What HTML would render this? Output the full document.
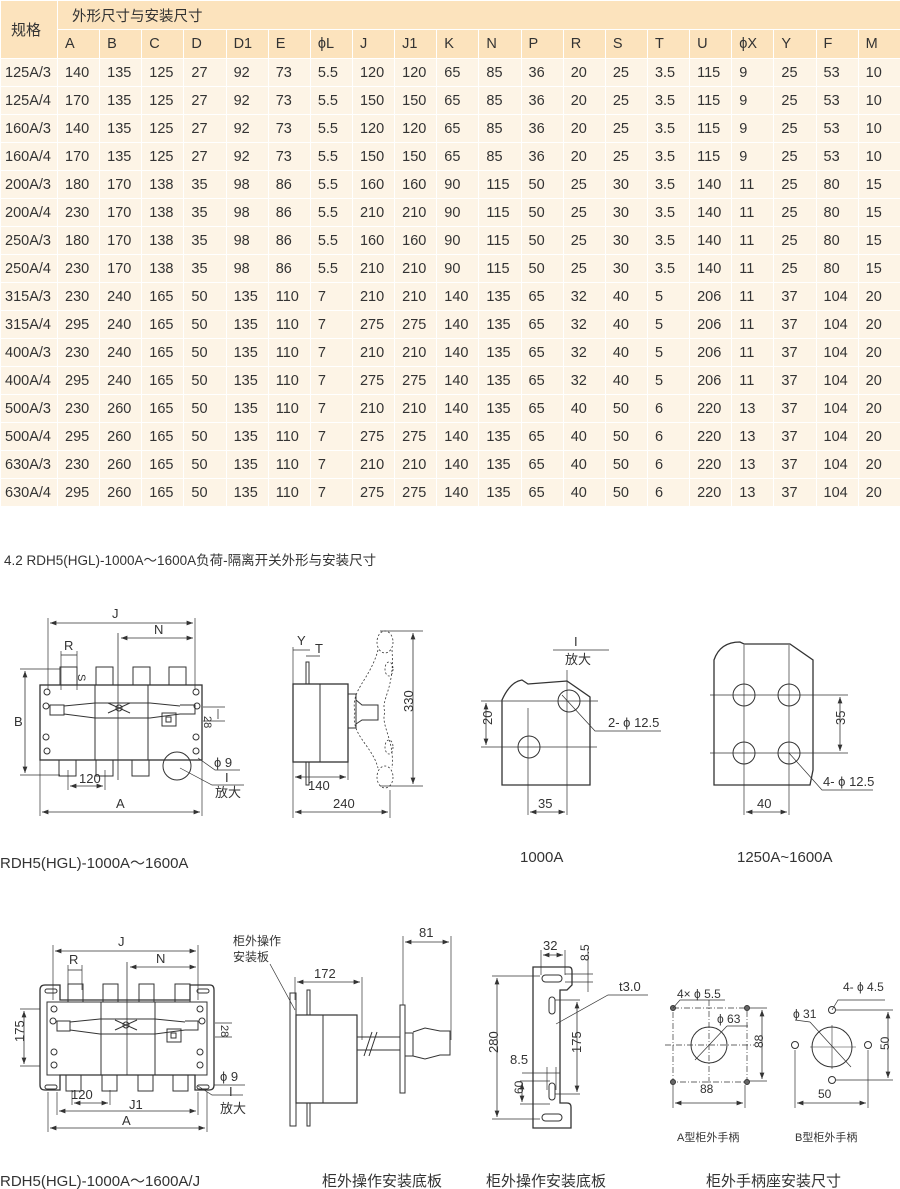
<!DOCTYPE html>
<html><head><meta charset="utf-8"><style>
body{margin:0;width:900px;height:1189px;background:#fff;position:relative;overflow:hidden;font-family:"Liberation Sans","Noto Sans CJK SC",sans-serif;color:#333}
table{position:absolute;left:0;top:0;border-collapse:collapse;table-layout:fixed;width:900px;font-size:14.5px}
td{border:1.5px solid #fff;padding:0 0 0 7px;white-space:nowrap;overflow:hidden;height:27px;background:#fdf4e6}
tr.h td{background:#fce3bd;height:28px}
svg{position:absolute;left:0;top:0}
svg text{font-family:"Liberation Sans","Noto Sans CJK SC",sans-serif;fill:#333}
</style></head><body>
<table>
<colgroup><col style="width:57px"><col span="20" style="width:42.15px"></colgroup>
<tr class="h"><td rowspan="2" style="padding-left:10px;font-size:15px">规格</td><td colspan="20" style="padding-left:14px">外形尺寸与安装尺寸</td></tr>
<tr class="h"><td>A</td><td>B</td><td>C</td><td>D</td><td>D1</td><td>E</td><td>&#981;L</td><td>J</td><td>J1</td><td>K</td><td>N</td><td>P</td><td>R</td><td>S</td><td>T</td><td>U</td><td>&#981;X</td><td>Y</td><td>F</td><td>M</td></tr>
<tr><td style="padding-left:4px">125A/3</td><td>140</td><td>135</td><td>125</td><td>27</td><td>92</td><td>73</td><td>5.5</td><td>120</td><td>120</td><td>65</td><td>85</td><td>36</td><td>20</td><td>25</td><td>3.5</td><td>115</td><td>9</td><td>25</td><td>53</td><td>10</td></tr>
<tr><td style="padding-left:4px">125A/4</td><td>170</td><td>135</td><td>125</td><td>27</td><td>92</td><td>73</td><td>5.5</td><td>150</td><td>150</td><td>65</td><td>85</td><td>36</td><td>20</td><td>25</td><td>3.5</td><td>115</td><td>9</td><td>25</td><td>53</td><td>10</td></tr>
<tr><td style="padding-left:4px">160A/3</td><td>140</td><td>135</td><td>125</td><td>27</td><td>92</td><td>73</td><td>5.5</td><td>120</td><td>120</td><td>65</td><td>85</td><td>36</td><td>20</td><td>25</td><td>3.5</td><td>115</td><td>9</td><td>25</td><td>53</td><td>10</td></tr>
<tr><td style="padding-left:4px">160A/4</td><td>170</td><td>135</td><td>125</td><td>27</td><td>92</td><td>73</td><td>5.5</td><td>150</td><td>150</td><td>65</td><td>85</td><td>36</td><td>20</td><td>25</td><td>3.5</td><td>115</td><td>9</td><td>25</td><td>53</td><td>10</td></tr>
<tr><td style="padding-left:4px">200A/3</td><td>180</td><td>170</td><td>138</td><td>35</td><td>98</td><td>86</td><td>5.5</td><td>160</td><td>160</td><td>90</td><td>115</td><td>50</td><td>25</td><td>30</td><td>3.5</td><td>140</td><td>11</td><td>25</td><td>80</td><td>15</td></tr>
<tr><td style="padding-left:4px">200A/4</td><td>230</td><td>170</td><td>138</td><td>35</td><td>98</td><td>86</td><td>5.5</td><td>210</td><td>210</td><td>90</td><td>115</td><td>50</td><td>25</td><td>30</td><td>3.5</td><td>140</td><td>11</td><td>25</td><td>80</td><td>15</td></tr>
<tr><td style="padding-left:4px">250A/3</td><td>180</td><td>170</td><td>138</td><td>35</td><td>98</td><td>86</td><td>5.5</td><td>160</td><td>160</td><td>90</td><td>115</td><td>50</td><td>25</td><td>30</td><td>3.5</td><td>140</td><td>11</td><td>25</td><td>80</td><td>15</td></tr>
<tr><td style="padding-left:4px">250A/4</td><td>230</td><td>170</td><td>138</td><td>35</td><td>98</td><td>86</td><td>5.5</td><td>210</td><td>210</td><td>90</td><td>115</td><td>50</td><td>25</td><td>30</td><td>3.5</td><td>140</td><td>11</td><td>25</td><td>80</td><td>15</td></tr>
<tr><td style="padding-left:4px">315A/3</td><td>230</td><td>240</td><td>165</td><td>50</td><td>135</td><td>110</td><td>7</td><td>210</td><td>210</td><td>140</td><td>135</td><td>65</td><td>32</td><td>40</td><td>5</td><td>206</td><td>11</td><td>37</td><td>104</td><td>20</td></tr>
<tr><td style="padding-left:4px">315A/4</td><td>295</td><td>240</td><td>165</td><td>50</td><td>135</td><td>110</td><td>7</td><td>275</td><td>275</td><td>140</td><td>135</td><td>65</td><td>32</td><td>40</td><td>5</td><td>206</td><td>11</td><td>37</td><td>104</td><td>20</td></tr>
<tr><td style="padding-left:4px">400A/3</td><td>230</td><td>240</td><td>165</td><td>50</td><td>135</td><td>110</td><td>7</td><td>210</td><td>210</td><td>140</td><td>135</td><td>65</td><td>32</td><td>40</td><td>5</td><td>206</td><td>11</td><td>37</td><td>104</td><td>20</td></tr>
<tr><td style="padding-left:4px">400A/4</td><td>295</td><td>240</td><td>165</td><td>50</td><td>135</td><td>110</td><td>7</td><td>275</td><td>275</td><td>140</td><td>135</td><td>65</td><td>32</td><td>40</td><td>5</td><td>206</td><td>11</td><td>37</td><td>104</td><td>20</td></tr>
<tr><td style="padding-left:4px">500A/3</td><td>230</td><td>260</td><td>165</td><td>50</td><td>135</td><td>110</td><td>7</td><td>210</td><td>210</td><td>140</td><td>135</td><td>65</td><td>40</td><td>50</td><td>6</td><td>220</td><td>13</td><td>37</td><td>104</td><td>20</td></tr>
<tr><td style="padding-left:4px">500A/4</td><td>295</td><td>260</td><td>165</td><td>50</td><td>135</td><td>110</td><td>7</td><td>275</td><td>275</td><td>140</td><td>135</td><td>65</td><td>40</td><td>50</td><td>6</td><td>220</td><td>13</td><td>37</td><td>104</td><td>20</td></tr>
<tr><td style="padding-left:4px">630A/3</td><td>230</td><td>260</td><td>165</td><td>50</td><td>135</td><td>110</td><td>7</td><td>210</td><td>210</td><td>140</td><td>135</td><td>65</td><td>40</td><td>50</td><td>6</td><td>220</td><td>13</td><td>37</td><td>104</td><td>20</td></tr>
<tr><td style="padding-left:4px">630A/4</td><td>295</td><td>260</td><td>165</td><td>50</td><td>135</td><td>110</td><td>7</td><td>275</td><td>275</td><td>140</td><td>135</td><td>65</td><td>40</td><td>50</td><td>6</td><td>220</td><td>13</td><td>37</td><td>104</td><td>20</td></tr>
</table>

<svg width="900" height="1189" viewBox="0 0 900 1189">
<defs><marker id="a" viewBox="0 0 8 6" refX="8" refY="3" markerWidth="8" markerHeight="6" orient="auto-start-reverse"><path d="M0,0L8,3L0,6z" fill="#333"/></marker></defs>
<text x="4" y="565" font-size="13.5">4.2  RDH5(HGL)-1000A～1600A负荷-隔离开关外形与安装尺寸</text>

<g stroke="#333" fill="none" stroke-width="1">
<rect x="40" y="685" width="162" height="75" fill="#fff" stroke-width="1.3"/>
<line x1="95" y1="685" x2="95" y2="760"/><line x1="148" y1="685" x2="148" y2="760"/>
<rect x="60" y="667" width="17" height="18"/><rect x="96" y="667" width="17" height="18"/><rect x="133" y="667" width="17" height="18"/><rect x="169" y="667" width="17" height="18"/>
<rect x="59" y="760" width="17" height="16"/><rect x="96" y="760" width="17" height="16"/><rect x="132" y="760" width="17" height="16"/>
<circle cx="177" cy="766" r="14"/>
<circle cx="47" cy="692" r="3"/><circle cx="196" cy="692" r="3"/><circle cx="47" cy="751" r="3"/><circle cx="196" cy="751" r="3"/><circle cx="46" cy="706" r="3"/><circle cx="197" cy="706" r="3"/><circle cx="46" cy="737" r="3"/><circle cx="196" cy="737" r="3"/>
<path d="M50,705 H64 V715 H50z M64,706 L95,703 H150 L180,706 M64,714 L95,718 H150 L180,714 M180,705 H195 V714 H180"/>
<circle cx="119" cy="708" r="3"/><path d="M108,703 L130,713 M108,713 L130,703"/>
<rect x="162" y="713" width="14" height="13"/><rect x="166" y="717" width="5" height="5"/>
<line x1="118" y1="633" x2="118" y2="780" stroke-width=".8"/>
<line x1="48" y1="618" x2="48" y2="690" stroke-width=".7"/><line x1="195" y1="618" x2="195" y2="690" stroke-width=".7"/>
<line x1="50" y1="623" x2="193" y2="623" marker-start="url(#a)" marker-end="url(#a)" stroke-width=".8"/>
<line x1="121" y1="638" x2="193" y2="638" marker-start="url(#a)" marker-end="url(#a)" stroke-width=".8"/>
<line x1="61" y1="651" x2="61" y2="690" stroke-width=".7"/><line x1="77" y1="651" x2="77" y2="690" stroke-width=".7"/>
<line x1="61" y1="655" x2="77" y2="655" stroke-width=".8"/>
<line x1="20" y1="669" x2="60" y2="669" stroke-width=".7"/><line x1="20" y1="775" x2="60" y2="775" stroke-width=".7"/>
<line x1="25" y1="671" x2="25" y2="773" marker-start="url(#a)" marker-end="url(#a)" stroke-width=".8"/>
<line x1="40" y1="760" x2="40" y2="816" stroke-width=".7"/><line x1="202" y1="760" x2="202" y2="816" stroke-width=".7"/>
<line x1="42" y1="812" x2="200" y2="812" marker-start="url(#a)" marker-end="url(#a)" stroke-width=".8"/>
<line x1="68" y1="770" x2="68" y2="790" stroke-width=".7"/><line x1="105" y1="770" x2="105" y2="790" stroke-width=".7"/>
<line x1="70" y1="786" x2="103" y2="786" marker-start="url(#a)" marker-end="url(#a)" stroke-width=".8"/>
<line x1="203" y1="707" x2="225" y2="707" stroke-width=".7"/><line x1="203" y1="721" x2="225" y2="721" stroke-width=".7"/>
<line x1="218" y1="709" x2="218" y2="719" stroke-width=".8"/>
<path d="M198,758 L215,770 H240 M180,768 L212,785 H244" stroke-width=".7"/>
</g>
<g font-size="13">
<text x="112" y="618">J</text><text x="154" y="634">N</text><text x="64" y="650">R</text>
<text x="81" y="683" transform="rotate(90 84 677)" font-size="11">S</text>
<text x="14" y="726">B</text><text x="116" y="808">A</text><text x="79" y="783">120</text>
<text x="213" y="721" font-size="11" transform="rotate(90 211 714)">28</text>
<text x="214" y="767">&#981; 9</text><text x="225" y="782">I</text><text x="215" y="797">放大</text>
</g>

<g stroke="#333" fill="none" stroke-width="1">
<rect x="293" y="684" width="55" height="78" fill="#fff" stroke-width="1.3"/><line x1="320" y1="684" x2="320" y2="762"/>
<rect x="306" y="662" width="3" height="22"/><rect x="306" y="762" width="3" height="23"/>
<path d="M348,694 h8 v34 h-8 M356,700 L362,705 H378 V720 H362 L356,724" />
<g stroke-dasharray="2,2" stroke-width=".8"><ellipse cx="385" cy="642" rx="8" ry="11"/><ellipse cx="385" cy="777" rx="8" ry="11"/><path d="M378,650 C370,680 350,690 355,712 C350,735 372,745 378,768 M392,650 C395,690 380,700 385,712 C380,725 395,740 392,768"/><ellipse cx="389" cy="669" rx="4" ry="7"/><ellipse cx="389" cy="747" rx="4" ry="7"/></g>
<line x1="380" y1="631" x2="423" y2="631" stroke-width=".7"/><line x1="380" y1="786" x2="423" y2="786" stroke-width=".7"/>
<line x1="413" y1="633" x2="413" y2="784" marker-start="url(#a)" marker-end="url(#a)" stroke-width=".8"/>
<line x1="293" y1="647" x2="293" y2="818" stroke-width=".7"/><line x1="348" y1="762" x2="348" y2="780" stroke-width=".7"/><line x1="390" y1="790" x2="390" y2="818" stroke-width=".7"/>
<line x1="295" y1="777" x2="346" y2="777" marker-start="url(#a)" marker-end="url(#a)" stroke-width=".8"/>
<line x1="295" y1="812" x2="388" y2="812" marker-start="url(#a)" marker-end="url(#a)" stroke-width=".8"/>
<line x1="293" y1="650" x2="310" y2="650" stroke-width=".8"/><line x1="306" y1="656" x2="320" y2="656" stroke-width=".8"/>
</g>
<g font-size="13"><text x="297" y="645">Y</text><text x="315" y="653">T</text><text x="407" y="718" transform="rotate(-90 407 712)">330</text><text x="308" y="790">140</text><text x="333" y="808">240</text></g>

<g stroke="#333" fill="none" stroke-width="1">
<path d="M502,785 V700 Q510,682 522,680 L528,684 L567,681 L590,697 V785 Z" stroke-width="1.3"/>
<circle cx="569" cy="701" r="11"/><circle cx="529" cy="747" r="11"/>
<line x1="567" y1="670" x2="567" y2="815" stroke-width=".7"/><line x1="528" y1="708" x2="528" y2="815" stroke-width=".7"/>
<line x1="481" y1="701" x2="598" y2="701" stroke-width=".7"/><line x1="481" y1="747" x2="597" y2="747" stroke-width=".7"/>
<line x1="486" y1="703" x2="486" y2="745" marker-start="url(#a)" marker-end="url(#a)" stroke-width=".8"/>
<line x1="530" y1="812" x2="565" y2="812" marker-start="url(#a)" marker-end="url(#a)" stroke-width=".8"/>
<line x1="553" y1="650" x2="609" y2="650" stroke-width=".8"/>
<path d="M562,695 L595,731 H661" stroke-width=".7"/>
<path d="M714,785 V660 Q720,642 740,642 L744,644 H790 L813,660 V770 L810,785 Z" stroke-width="1.3"/>
<circle cx="744" cy="695" r="11"/><circle cx="789" cy="695" r="11"/><circle cx="744" cy="753" r="11"/><circle cx="789" cy="753" r="11"/>
<line x1="744" y1="645" x2="744" y2="815" stroke-width=".7"/><line x1="789" y1="645" x2="789" y2="815" stroke-width=".7"/>
<line x1="710" y1="695" x2="848" y2="695" stroke-width=".7"/><line x1="710" y1="753" x2="848" y2="753" stroke-width=".7"/>
<line x1="840" y1="697" x2="840" y2="751" marker-start="url(#a)" marker-end="url(#a)" stroke-width=".8"/>
<line x1="746" y1="812" x2="787" y2="812" marker-start="url(#a)" marker-end="url(#a)" stroke-width=".8"/>
<path d="M789,753 L822,790 H873" stroke-width=".7"/>
</g>
<g font-size="13"><text x="574" y="646">I</text><text x="565" y="664">放大</text><text x="484" y="733" transform="rotate(-90 484 725)">20</text><text x="538" y="808">35</text><text x="608" y="727">2- &#981; 12.5</text>
<text x="838" y="732" transform="rotate(-90 838 725)">35</text><text x="757" y="808">40</text><text x="823" y="786">4- &#981; 12.5</text></g>

<g font-size="15"><text x="0" y="868">RDH5(HGL)-1000A～1600A</text><text x="520" y="862">1000A</text><text x="737" y="862">1250A~1600A</text></g>

<g stroke="#333" fill="none" stroke-width="1">
<path d="M40,990 Q40,985 45,985 H60 L60,1000 H190 V985 H210 Q214,985 214,990 V1085 Q214,1090 209,1090 H195 V1075 H60 V1090 H45 Q40,1090 40,1085 Z" stroke-width="1.3"/>
<rect x="47" y="1002" width="160" height="73"/>
<line x1="101" y1="1002" x2="101" y2="1075"/><line x1="155" y1="1002" x2="155" y2="1075"/>
<rect x="45" y="989" width="12" height="4" rx="2"/><rect x="197" y="989" width="12" height="4" rx="2"/><rect x="45" y="1085" width="12" height="4" rx="2"/><rect x="197" y="1085" width="12" height="4" rx="2"/>
<rect x="68" y="984" width="15" height="18"/><rect x="103" y="984" width="15" height="18"/><rect x="139" y="984" width="15" height="18"/><rect x="175" y="984" width="15" height="18"/>
<rect x="66" y="1075" width="15" height="16"/><rect x="102" y="1075" width="15" height="16"/><rect x="138" y="1075" width="15" height="16"/><rect x="173" y="1075" width="15" height="16"/>
<circle cx="54" cy="1009" r="3"/><circle cx="200" cy="1009" r="3"/><circle cx="54" cy="1052" r="3"/><circle cx="200" cy="1052" r="3"/><circle cx="54" cy="1065" r="3"/><circle cx="200" cy="1065" r="3"/><circle cx="53" cy="1021" r="3"/><circle cx="202" cy="1021" r="3"/>
<path d="M57,1021 H70 V1031 H57z M70,1022 L100,1019 H155 L185,1022 M70,1030 L100,1034 H155 L185,1030 M185,1021 H198 V1030 H185"/>
<circle cx="126" cy="1025" r="3"/><path d="M115,1020 L137,1030 M115,1030 L137,1020"/>
<rect x="167" y="1029" width="14" height="13"/><rect x="171" y="1033" width="5" height="5"/>
<line x1="127" y1="962" x2="127" y2="1075" stroke-width=".8"/>
<line x1="53" y1="945" x2="53" y2="1000" stroke-width=".7"/><line x1="198" y1="945" x2="198" y2="1000" stroke-width=".7"/>
<line x1="55" y1="951" x2="196" y2="951" marker-start="url(#a)" marker-end="url(#a)" stroke-width=".8"/>
<line x1="130" y1="967" x2="196" y2="967" marker-start="url(#a)" marker-end="url(#a)" stroke-width=".8"/>
<line x1="68" y1="965" x2="68" y2="990" stroke-width=".7"/><line x1="82" y1="965" x2="82" y2="990" stroke-width=".7"/><line x1="68" y1="970" x2="82" y2="970" stroke-width=".8"/>
<line x1="20" y1="1009" x2="40" y2="1009" stroke-width=".7"/><line x1="20" y1="1066" x2="40" y2="1066" stroke-width=".7"/>
<line x1="24" y1="1011" x2="24" y2="1064" marker-start="url(#a)" marker-end="url(#a)" stroke-width=".8"/>
<line x1="72" y1="1090" x2="72" y2="1105" stroke-width=".7"/><line x1="110" y1="1090" x2="110" y2="1105" stroke-width=".7"/>
<line x1="74" y1="1103" x2="108" y2="1103" marker-start="url(#a)" marker-end="url(#a)" stroke-width=".8"/>
<line x1="57" y1="1092" x2="57" y2="1115" stroke-width=".7"/><line x1="198" y1="1092" x2="198" y2="1115" stroke-width=".7"/>
<line x1="59" y1="1111" x2="196" y2="1111" marker-start="url(#a)" marker-end="url(#a)" stroke-width=".8"/>
<line x1="48" y1="1092" x2="48" y2="1132" stroke-width=".7"/><line x1="207" y1="1092" x2="207" y2="1132" stroke-width=".7"/>
<line x1="50" y1="1128" x2="205" y2="1128" marker-start="url(#a)" marker-end="url(#a)" stroke-width=".8"/>
<line x1="215" y1="1023" x2="232" y2="1023" stroke-width=".7"/><line x1="215" y1="1037" x2="232" y2="1037" stroke-width=".7"/>
<path d="M198,1086 L212,1095 H243 M214,1085 L217,1085 H245" stroke-width=".7"/>
</g>
<g font-size="13"><text x="118" y="946">J</text><text x="156" y="963">N</text><text x="69" y="964">R</text><text x="14" y="1044" transform="rotate(-90 18 1038)">175</text><text x="222" y="1036" font-size="11" transform="rotate(90 227 1030)">28</text>
<text x="71" y="1099">120</text><text x="129" y="1109">J1</text><text x="122" y="1125">A</text><text x="220" y="1081">&#981; 9</text><text x="229" y="1096">I</text><text x="220" y="1113">放大</text>
<text x="233" y="945" font-size="12">柜外操作</text><text x="233" y="961" font-size="12">安装板</text></g>

<g stroke="#333" fill="none" stroke-width="1">
<path d="M270,964 L295,1010" stroke-width=".7"/>
<rect x="290" y="993" width="6" height="133"/><rect x="307" y="990" width="3" height="136"/>
<rect x="296" y="1015" width="61" height="88" fill="#fff" stroke-width="1.2"/><line x1="323" y1="1015" x2="323" y2="1103"/>
<rect x="357" y="1037" width="43" height="13"/><path d="M364,1056 L372,1032 M369,1056 L377,1032"/>
<rect x="400" y="1005" width="5" height="88"/>
<path d="M405,1033 H413 V1056 H405 M413,1032 L425,1028 L440,1031 H450 V1055 H440 L425,1059 L413,1056"/>
<line x1="295" y1="977" x2="295" y2="1000" stroke-width=".7"/><line x1="362" y1="977" x2="362" y2="1040" stroke-width=".7"/>
<line x1="297" y1="982" x2="360" y2="982" marker-start="url(#a)" marker-end="url(#a)" stroke-width=".8"/>
<line x1="403" y1="936" x2="403" y2="1005" stroke-width=".7"/><line x1="451" y1="936" x2="451" y2="1040" stroke-width=".7"/>
<line x1="405" y1="942" x2="449" y2="942" marker-start="url(#a)" marker-end="url(#a)" stroke-width=".8"/>
</g>
<g font-size="13"><text x="314" y="978">172</text><text x="419" y="937">81</text></g>

<g stroke="#333" fill="none" stroke-width="1">
<path d="M533,967 H569 Q572,967 572,971 V985 L567,990 H560 V1103 H567 Q571,1103 571,1107 V1128 H533 Z" stroke-width="1.3"/>
<rect x="542" y="975" width="20" height="7" rx="3.5"/><rect x="549" y="997" width="6" height="17" rx="3"/><rect x="549" y="1083" width="6" height="17" rx="3"/><rect x="542" y="1114" width="20" height="7" rx="3.5"/>
<line x1="541" y1="950" x2="541" y2="975" stroke-width=".7"/><line x1="565" y1="950" x2="565" y2="975" stroke-width=".7"/>
<line x1="543" y1="955" x2="563" y2="955" marker-start="url(#a)" marker-end="url(#a)" stroke-width=".8"/>
<line x1="565" y1="974" x2="593" y2="974" stroke-width=".7"/><line x1="565" y1="982" x2="593" y2="982" stroke-width=".7"/><line x1="588" y1="948" x2="588" y2="992" stroke-width=".7"/>
<line x1="492" y1="976" x2="540" y2="976" stroke-width=".7"/><line x1="492" y1="1119" x2="540" y2="1119" stroke-width=".7"/>
<line x1="497" y1="978" x2="497" y2="1117" marker-start="url(#a)" marker-end="url(#a)" stroke-width=".8"/>
<line x1="555" y1="1000" x2="580" y2="1000" stroke-width=".7"/><line x1="555" y1="1094" x2="580" y2="1094" stroke-width=".7"/>
<line x1="577" y1="1002" x2="577" y2="1092" marker-start="url(#a)" marker-end="url(#a)" stroke-width=".8"/>
<line x1="520" y1="1081" x2="550" y2="1081" stroke-width=".7"/><line x1="520" y1="1104" x2="550" y2="1104" stroke-width=".7"/>
<line x1="522" y1="1083" x2="522" y2="1102" marker-start="url(#a)" marker-end="url(#a)" stroke-width=".8"/>
<line x1="522" y1="1073" x2="560" y2="1073" stroke-width=".7"/><line x1="547" y1="1067" x2="547" y2="1090" stroke-width=".7"/><line x1="556" y1="1067" x2="556" y2="1090" stroke-width=".7"/>
<path d="M556,1024 L608,995 H648" stroke-width=".7"/>
</g>
<g font-size="13"><text x="543" y="950">32</text><text x="583" y="967" transform="rotate(-90 583 961)" font-size="12">8.5</text><text x="487" y="1054" transform="rotate(-90 492 1048)">280</text><text x="572" y="1056" transform="rotate(-90 575 1050)">175</text><text x="510" y="1064">8.5</text><text x="517" y="1098" transform="rotate(-90 518 1093)" font-size="12">60</text><text x="619" y="991">t3.0</text></g>

<g stroke="#333" fill="none" stroke-width="1">
<g stroke-dasharray="6,2,1,2" stroke-width=".7"><path d="M673,1008 H747 V1082 H673 Z M709,1000 V1090 M665,1045 H755"/></g>
<circle cx="709" cy="1045" r="18"/><line x1="695" y1="1060" x2="727" y2="1026" stroke-width=".7"/><path d="M727,1026 L748,1026" stroke-width=".7"/>
<g fill="#666"><circle cx="673" cy="1008" r="2.5"/><circle cx="747" cy="1008" r="2.5"/><circle cx="673" cy="1082" r="2.5"/><circle cx="747" cy="1082" r="2.5"/></g>
<path d="M673,1008 L680,1000 H725" stroke-width=".7"/>
<line x1="749" y1="1008" x2="767" y2="1008" stroke-width=".7"/><line x1="749" y1="1081" x2="767" y2="1081" stroke-width=".7"/>
<line x1="762" y1="1010" x2="762" y2="1079" marker-start="url(#a)" marker-end="url(#a)" stroke-width=".8"/>
<line x1="673" y1="1085" x2="673" y2="1108" stroke-width=".7"/><line x1="745" y1="1085" x2="745" y2="1108" stroke-width=".7"/>
<line x1="675" y1="1103" x2="743" y2="1103" marker-start="url(#a)" marker-end="url(#a)" stroke-width=".8"/>
<circle cx="832" cy="1047" r="20"/><path d="M810,1047 H856 M832,1025 V1069" stroke-width=".6"/>
<line x1="810" y1="1022" x2="851" y2="1067" stroke-width=".7"/><path d="M795,1020 L810,1022" stroke-width=".7"/>
<circle cx="832" cy="1010" r="3.5"/><circle cx="795" cy="1045" r="3.5"/><circle cx="868" cy="1045" r="3.5"/><circle cx="832" cy="1080" r="3.5"/>
<path d="M832,1010 L838,1000 H885" stroke-width=".7"/>
<line x1="836" y1="1010" x2="893" y2="1010" stroke-width=".7"/><line x1="836" y1="1080" x2="893" y2="1080" stroke-width=".7"/>
<line x1="888" y1="1012" x2="888" y2="1078" marker-start="url(#a)" marker-end="url(#a)" stroke-width=".8"/>
<line x1="795" y1="1050" x2="795" y2="1108" stroke-width=".7"/><line x1="868" y1="1050" x2="868" y2="1108" stroke-width=".7"/>
<line x1="797" y1="1103" x2="866" y2="1103" marker-start="url(#a)" marker-end="url(#a)" stroke-width=".8"/>
</g>
<g font-size="12"><text x="677" y="998">4× &#981; 5.5</text><text x="717" y="1023">&#981; 63</text><text x="752" y="1049" transform="rotate(-90 757 1043)">88</text><text x="700" y="1093">88</text>
<text x="843" y="991">4- &#981; 4.5</text><text x="793" y="1018">&#981; 31</text><text x="879" y="1050" transform="rotate(-90 884 1045)">50</text><text x="818" y="1098">50</text>
<text x="677" y="1141" font-size="11">A型柜外手柄</text><text x="795" y="1141" font-size="11">B型柜外手柄</text></g>

<g font-size="15"><text x="0" y="1186">RDH5(HGL)-1000A～1600A/J</text><text x="322" y="1186">柜外操作安装底板</text><text x="486" y="1186">柜外操作安装底板</text><text x="706" y="1186">柜外手柄座安装尺寸</text></g>
</svg>
</body></html>
